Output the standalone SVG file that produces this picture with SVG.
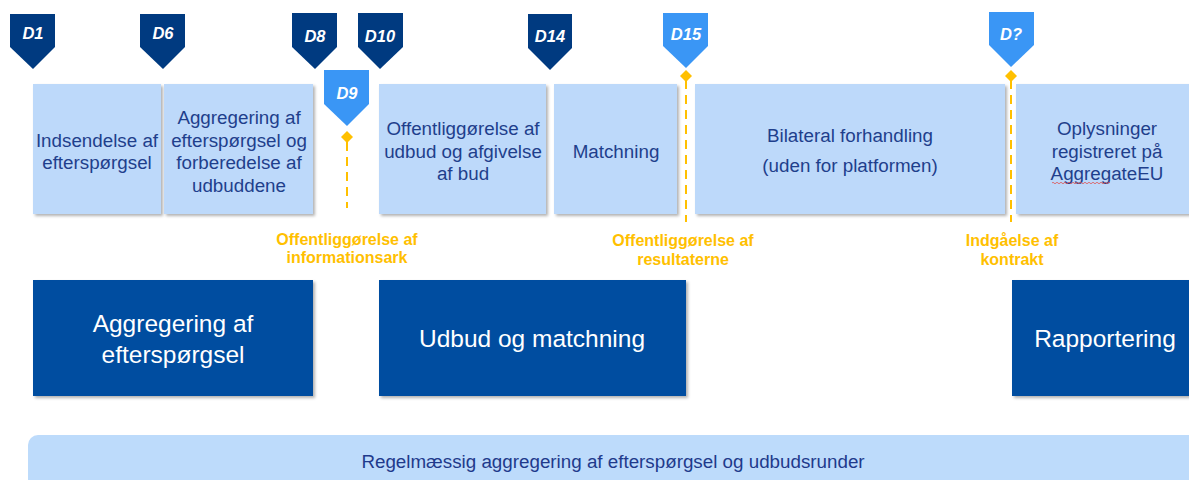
<svg xmlns="http://www.w3.org/2000/svg" width="1189" height="480" viewBox="0 0 1189 480">
<defs>
<filter id="sh" x="-10%" y="-10%" width="125%" height="125%">
<feDropShadow dx="2" dy="2" stdDeviation="1.5" flood-color="#000" flood-opacity="0.3"/>
</filter>
<style>
.mk{fill:#003A80}
.mkl{fill:#3A96F5}
.mt{font-family:"Liberation Sans",Arial,sans-serif;font-size:16.5px;font-weight:bold;font-style:italic;fill:#fff;text-anchor:middle}
.box{fill:#BDD9FA;filter:url(#sh)}
.bt{font-family:"Liberation Sans",Arial,sans-serif;font-size:18.8px;fill:#1F3F8C;text-anchor:middle}
.dk{fill:#054DA0;filter:url(#sh)}
.dt{font-family:"Liberation Sans",Arial,sans-serif;font-size:24.5px;fill:#fff;text-anchor:middle}
.ot{font-family:"Liberation Sans",Arial,sans-serif;font-size:16px;font-weight:bold;fill:#FFC000;text-anchor:middle}
.dl{stroke:#FFC000;stroke-width:2;stroke-dasharray:9,6;fill:none}
.dm{fill:#FFC000}
</style>
</defs>
<g id="connectors">
<line class="dl" x1="347" y1="142" x2="347" y2="208"/>
<line class="dl" x1="686" y1="80" x2="686" y2="222"/>
<line class="dl" x1="1011" y1="80" x2="1011" y2="222"/>
</g>
<g id="box1"><rect class="box" x="33" y="84" width="128" height="130"/><text class="bt"><tspan x="97" y="147">Indsendelse af</tspan><tspan x="97" y="169">efterspørgsel</tspan></text></g>
<g id="box2"><rect class="box" x="164" y="84" width="149" height="130"/><text class="bt"><tspan x="239" y="124">Aggregering af</tspan><tspan x="239" y="147">efterspørgsel og</tspan><tspan x="239" y="169">forberedelse af</tspan><tspan x="239" y="192">udbuddene</tspan></text></g>
<g id="box3"><rect class="box" x="379" y="84" width="167" height="130"/><text class="bt"><tspan x="463" y="135">Offentliggørelse af</tspan><tspan x="463" y="158">udbud og afgivelse</tspan><tspan x="463" y="180">af bud</tspan></text></g>
<g id="box4"><rect class="box" x="554" y="84" width="123" height="130"/><text class="bt"><tspan x="616" y="158">Matchning</tspan></text></g>
<g id="box5"><rect class="box" x="695" y="84" width="310" height="130"/><text class="bt"><tspan x="850" y="142">Bilateral forhandling</tspan><tspan x="850" y="172">(uden for platformen)</tspan></text></g>
<g id="box6"><rect class="box" x="1016" y="84" width="180" height="130"/><text class="bt"><tspan x="1107" y="135">Oplysninger</tspan><tspan x="1107" y="158">registreret på</tspan><tspan x="1107" y="180">AggregateEU</tspan></text><path d="M1052 183 q1 -1.5 2 0 t2 0 t2 0 t2 0 t2 0 t2 0 t2 0 t2 0 t2 0 t2 0 t2 0 t2 0 t2 0 t2 0 t2 0 t2 0 t2 0 t2 0 t2 0 t2 0 t2 0 t2 0 t2 0 t2 0 t2 0 t2 0 t2 0 t2 0 t2 0" fill="none" stroke="#E05050" stroke-width="0.8"/></g>
<g id="D1"><path class="mk" d="M10 14H55V47L33 69L10 47Z"/><text class="mt" x="33" y="39">D1</text></g>
<g id="D6"><path class="mk" d="M140 14H185V47L163 69L140 47Z"/><text class="mt" x="163" y="39">D6</text></g>
<g id="D8"><path class="mk" d="M292 13H337V47L315 69L292 47Z"/><text class="mt" x="315" y="42">D8</text></g>
<g id="D10"><path class="mk" d="M358 13H403V47L380 69L358 47Z"/><text class="mt" x="380" y="42">D10</text></g>
<g id="D9"><path class="mkl" d="M324 70H369V104L347 126L324 104Z"/><text class="mt" x="347" y="99">D9</text><path class="dm" d="M347 131L353 137L347 143L341 137Z"/></g>
<g id="D14"><path class="mk" d="M528 14H572V48L550 70L528 48Z"/><text class="mt" x="550" y="42">D14</text></g>
<g id="D15"><path class="mkl" d="M663 13H708V46L686 68L663 46Z"/><text class="mt" x="686" y="40">D15</text><path class="dm" d="M686 70L692 76L686 82L680 76Z"/></g>
<g id="Dq"><path class="mkl" d="M989 12H1034V45L1011 67L989 45Z"/><text class="mt" x="1011" y="40">D?</text><path class="dm" d="M1011 70L1017 76L1011 82L1005 76Z"/></g>
<g id="lbl1"><text class="ot"><tspan x="347" y="245">Offentliggørelse af</tspan><tspan x="347" y="263">informationsark</tspan></text></g>
<g id="lbl2"><text class="ot"><tspan x="683" y="246">Offentliggørelse af</tspan><tspan x="683" y="265">resultaterne</tspan></text></g>
<g id="lbl3"><text class="ot"><tspan x="1012" y="246">Indgåelse af</tspan><tspan x="1012" y="265">kontrakt</tspan></text></g>
<g id="phase1"><rect class="dk" x="33" y="280" width="280" height="116"/><text class="dt"><tspan x="173" y="332">Aggregering af</tspan><tspan x="173" y="363">efterspørgsel</tspan></text></g>
<g id="phase2"><rect class="dk" x="379" y="280" width="307" height="116"/><text class="dt"><tspan x="532" y="347">Udbud og matchning</tspan></text></g>
<g id="phase3"><rect class="dk" x="1012" y="280" width="185" height="116"/><text class="dt"><tspan x="1105" y="347">Rapportering</tspan></text></g>
<g id="bottom"><rect x="28" y="435" width="1180" height="60" rx="10" fill="#BDDBFB"/><text x="613" y="468" font-family="Liberation Sans,Arial,sans-serif" font-size="18.8" fill="#1F3A8C" text-anchor="middle">Regelmæssig aggregering af efterspørgsel og udbudsrunder</text></g>
</svg>
